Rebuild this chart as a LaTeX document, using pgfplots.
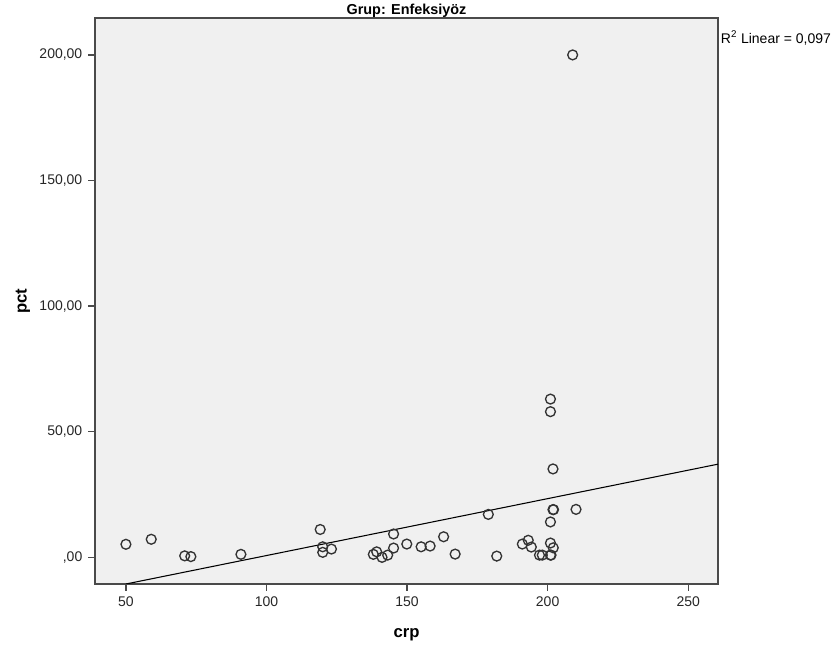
\documentclass[border=0pt]{standalone}
\usepackage{pgfplots}
\pgfplotsset{compat=1.18}
\usepackage{fontspec}
\setmainfont{Liberation Sans}
\definecolor{plotbg}{HTML}{F0F0F0}
\definecolor{framec}{HTML}{4A4A4A}
\begin{document}
\begin{tikzpicture}
\begin{axis}[
  name=ax,
  at={(0,0)}, anchor=south west,
  scale only axis,
  width=467.25pt, height=424.5pt,
  xmin=39.0, xmax=260.6,
  ymin=-10.6, ymax=214.7,
  axis background/.style={fill=plotbg},
  axis line style={framec, line width=1.1pt},
  xtick={50,100,150,200,250},
  xticklabels={50,100,150,200,250},
  ytick={0,50,100,150,200},
  yticklabels={{,00},{50,00},{100,00},{150,00},{200,00}},
  tick align=outside,
  major tick length=5pt,
  tick style={framec, line width=1pt},
  xtick pos=bottom, ytick pos=left,
  ticklabel style={font=\fontsize{10.5}{12}\selectfont, text=black!85},
  xticklabel style={yshift=-1pt},
  yticklabel style={xshift=-1pt},
  clip=true,
]
\addplot[only marks, mark=o, mark size=3.7pt, mark options={line width=1pt, draw=black!80}] coordinates {
(50,5.2) (59,7.2) (70.9,0.6) (73.1,0.3) (90.9,1.2)
(119.1,11.1) (120,4.2) (120,2.0) (123.1,3.3)
(138,1.2) (139.2,2.2) (141.1,0.0) (143.1,0.9) (145.2,3.7) (145.2,9.3)
(149.9,5.3) (155,4.2) (158.2,4.5) (163,8.2) (167.1,1.3)
(178.9,17.1) (181.9,0.5) (191,5.3) (193.1,6.8) (194.2,4.1)
(197.1,0.9) (198.1,0.9) (201,0.9) (201.2,0.9) (201,5.7) (202,3.8)
(201,14.1) (201.9,19) (202.1,19) (201.9,35.2) (201,58) (201,63)
(210.1,19.1) (208.9,200)
};
\addplot[black, line width=0.8pt] coordinates {(50,-10.6) (260.6,37.1)};
\end{axis}
\node[anchor=base, font=\bfseries\fontsize{10.8}{12}\selectfont] at ([yshift=2.6pt]ax.north) {Grup: Enfeksiyöz};
\node[anchor=west, inner sep=0pt, font=\fontsize{10.5}{12}\selectfont] at ([xshift=2pt, yshift=-15pt]ax.north east) {R\textsuperscript{2} Linear = 0,097};
\node[anchor=center, font=\bfseries\fontsize{12.5}{14}\selectfont] at ([yshift=-38pt]ax.south) {crp};
\node[anchor=center, rotate=90, font=\bfseries\fontsize{12.5}{14}\selectfont] at ([xshift=-54pt]ax.west) {pct};
\pgfresetboundingbox
\useasboundingbox (-71.25pt,-53.25pt) rectangle (558pt,438pt);
\end{tikzpicture}
\end{document}
